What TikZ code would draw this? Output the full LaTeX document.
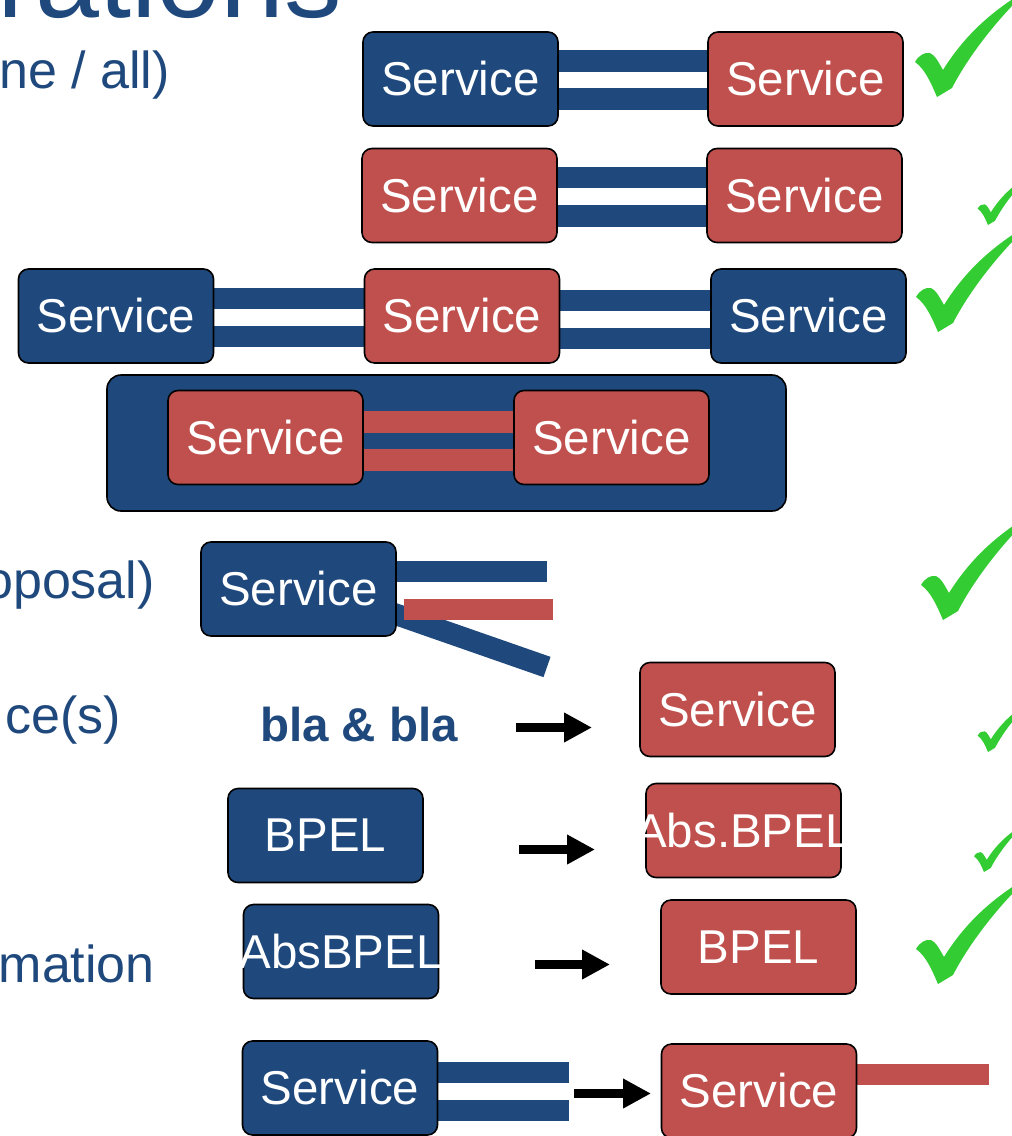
\documentclass[tikz,border=0pt]{standalone}
\usepackage{fontspec}
\setmainfont{Liberation Sans}
\usetikzlibrary{arrows.meta,backgrounds}
\definecolor{svcblue}{HTML}{1F497D}
\definecolor{svcred}{HTML}{C0504D}
\definecolor{tickgreen}{HTML}{33CC33}

\tikzset{
  svc/.style={rounded corners=10pt, draw=black, line width=1.6pt,
    minimum width=195pt, minimum height=94pt, inner sep=0pt,
    text=white, font=\fontsize{47.5}{50}\selectfont},
  bluesvc/.style={svc, fill=svcblue},
  redsvc/.style={svc, fill=svcred},
  bluebar/.style={draw=svcblue, line width=21.5pt},
  redbar/.style={draw=svcred, line width=21.5pt},
  flowarrow/.style={draw=black, line width=9pt,
    -{Triangle[length=28pt,width=28pt]}},
  sidetext/.style={text=svcblue, font=\fontsize{52}{56}\selectfont,
    anchor=base east, inner sep=0pt},
  okmark/.pic={
    \fill[tickgreen] (0,0) .. controls (-6,-14) and (-12,-28) .. (-22,-35)
      .. controls (-18,-42) and (-12,-45) .. (-7,-44)
      .. controls (-2,-42) and (2,-34) .. (6,-27)
      .. controls (24,-56) and (50,-84) .. (92,-108)
      .. controls (62,-80) and (32,-42) .. (15,-9) -- cycle;
  }
}

\begin{document}
\begin{tikzpicture}[x=1pt,y=-1pt]
\useasboundingbox (0,0) rectangle (1012,1136);
\clip (0,0) rectangle (1012,1136);

% heading and left-hand captions
\node[anchor=base west, inner sep=0pt, text=svcblue,
      font=\fontsize{115}{120}\selectfont] (title) at (-3,17) {rations};
\node[sidetext] (cap1) at (170,88) {ne / all)};
\node[sidetext] (cap2) at (155,598) {oposal)};
\node[sidetext] (cap3) at (121,733) {ce(s)};
\node[sidetext] (cap4) at (155,982) {mation};

% row 1
\node[bluesvc] (B1) at (460.5,79) {Service};
\node[redsvc]  (R1) at (805.5,79) {Service};
% row 2
\node[redsvc] (R2a) at (459.5,195.5) {Service};
\node[redsvc] (R2b) at (804.5,195.5) {Service};
% row 3
\node[bluesvc] (B3a) at (116,316) {Service};
\node[redsvc]  (R3)  at (462,316) {Service};
\node[bluesvc] (B3b) at (808.5,316) {Service};
% row 4 (inside the composite)
\node[redsvc] (R4a) at (265.5,437.5) {Service};
\node[redsvc] (R4b) at (611.5,437.5) {Service};
% row 5
\node[bluesvc] (B5) at (298.5,589) {Service};
% row 6
\node[anchor=base west, inner sep=0pt, text=svcblue,
      font=\bfseries\fontsize{47.5}{50}\selectfont] (bla) at (260,741) {bla \& bla};
\node[redsvc] (R6) at (737.5,709.5) {Service};
% row 7 (labels wider than their boxes keep the box size)
\node[bluesvc] (B7) at (325.5,835.5) {BPEL};
\node[redsvc]  (R7) at (743.5,830.5) {\makebox[0pt][c]{Abs.BPEL}};
% row 8
\node[bluesvc] (B8) at (341,951.5) {\makebox[0pt][c]{AbsBPEL}};
\node[redsvc]  (R8) at (758.5,947) {BPEL};
% row 9
\node[bluesvc] (B9) at (340,1088) {Service};
\node[redsvc]  (R9) at (759,1091) {Service};

% free ends of the stubs and arrows
\coordinate (s5top) at (547,571.5);
\coordinate (s5red) at (553,609.5);
\coordinate (s5redstart) at (404,609.5);
\coordinate (s5diagstart) at (385,610.5);
\coordinate (s5diag) at (547,667);
\coordinate (s9up) at (569,1072.5);
\coordinate (s9down) at (569,1110.5);
\coordinate (s9red) at (989,1074.5);
\coordinate (a6s) at (516,727.5);  \coordinate (a6t) at (592,727.5);
\coordinate (a7s) at (519,849.5);  \coordinate (a7t) at (595,849.5);
\coordinate (a8s) at (535,964.5);  \coordinate (a8t) at (610,964.5);
\coordinate (a9s) at (574,1093.5); \coordinate (a9t) at (651,1093.5);

\begin{scope}[on background layer]
  % composite service
  \node[draw=black, line width=1.6pt, fill=svcblue, rounded corners=14pt,
        minimum width=679pt, minimum height=136pt] (group) at (446.5,443) {};
  % double links
  \draw[bluebar] ([yshift=18pt]B1.east) -- ([yshift=18pt]R1.west);
  \draw[bluebar] ([yshift=-20pt]B1.east) -- ([yshift=-20pt]R1.west);
  \draw[bluebar] ([yshift=18pt]R2a.east) -- ([yshift=18pt]R2b.west);
  \draw[bluebar] ([yshift=-20.5pt]R2a.east) -- ([yshift=-20.5pt]R2b.west);
  \draw[bluebar] ([yshift=17.5pt]B3a.east) -- ([yshift=17.5pt]R3.west);
  \draw[bluebar] ([yshift=-20.5pt]B3a.east) -- ([yshift=-20.5pt]R3.west);
  \draw[bluebar] ([yshift=15.5pt]R3.east) -- ([yshift=15.5pt]B3b.west);
  \draw[bluebar] ([yshift=-22.5pt]R3.east) -- ([yshift=-22.5pt]B3b.west);
  \draw[redbar] ([yshift=15.5pt]R4a.east) -- ([yshift=15.5pt]R4b.west);
  \draw[redbar] ([yshift=-22.5pt]R4a.east) -- ([yshift=-22.5pt]R4b.west);
  % open stubs
  \draw[bluebar] (s5diagstart) -- (s5diag);
  \draw[redbar] (s5redstart) -- (s5red);
  \draw[bluebar] (B5.east |- s5top) -- (s5top);
  \draw[bluebar] (B9.east |- s9up) -- (s9up);
  \draw[bluebar] (B9.east |- s9down) -- (s9down);
  \draw[redbar] (R9.east |- s9red) -- (s9red);
\end{scope}

% transformation arrows
\draw[flowarrow] (a6s) -- (a6t);
\draw[flowarrow] (a7s) -- (a7t);
\draw[flowarrow] (a8s) -- (a8t);
\draw[flowarrow] (a9s) -- (a9t);

% verdict marks
\pic at (937,97) {okmark};
\pic[scale=0.47] at (988,225) {okmark};
\pic at (938,332) {okmark};
\pic at (943,620) {okmark};
\pic[scale=0.47] at (988,752) {okmark};
\pic[scale=0.45] at (984,872) {okmark};
\pic at (938,984) {okmark};
\end{tikzpicture}
\end{document}
